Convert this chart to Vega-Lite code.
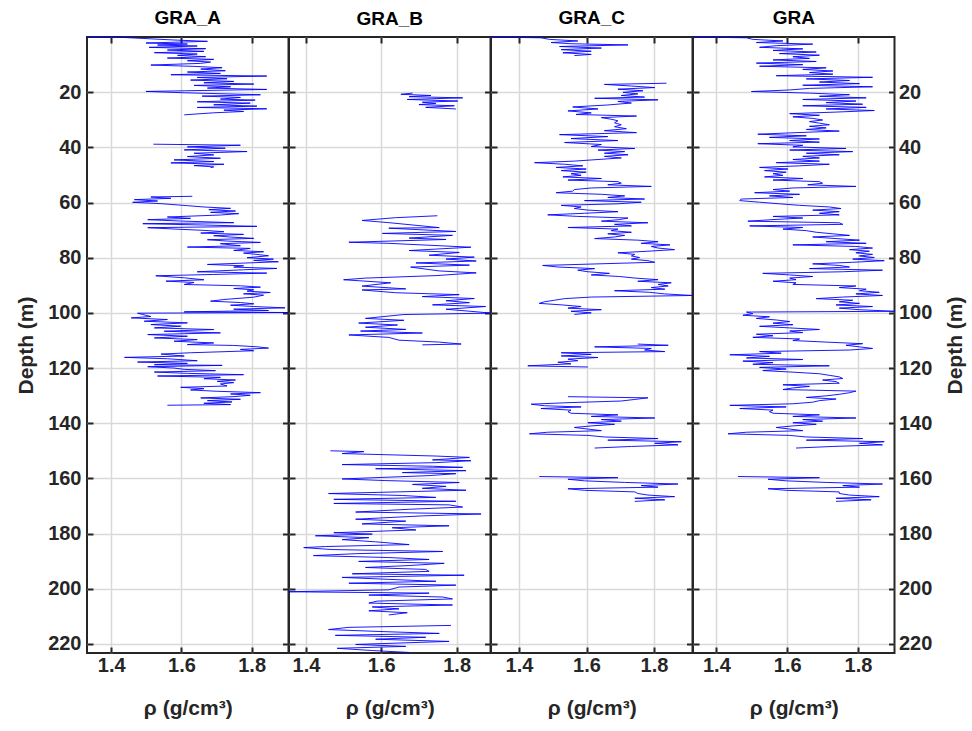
{
"$schema":"https://vega.github.io/schema/vega-lite/v6.json",
"background":"white",
"padding":{"left":14,"top":8,"right":8,"bottom":8},
"spacing":0,
"bounds":"flush",
"config":{
 "view":{"stroke":"#262626","strokeWidth":2},
 "axis":{"domain":false,"tickColor":"#262626","tickWidth":2,"tickSize":-6,"labelFont":"Liberation Sans","labelFontWeight":"bold","labelFontSize":20,"labelColor":"#262626","titleFont":"Liberation Sans","titleFontWeight":"bold","titleFontSize":21,"titleColor":"#262626","gridColor":"#d9d9d9","gridWidth":1.5,"gridOpacity":1},
 "title":{"font":"Liberation Sans","fontWeight":"bold","fontSize":19,"color":"#000000","anchor":"middle","offset":7}
},
"datasets":{
"A":[
{"s":1,"d":0,"r":1.331},{"s":1,"d":0.12,"r":1.428},{"s":1,"d":1.09,"r":1.579},{"s":1,"d":1.57,"r":1.674},{"s":1,"d":2.18,"r":1.499},{"s":1,"d":2.54,"r":1.617},{"s":1,"d":2.91,"r":1.532},{"s":1,"d":3.27,"r":1.645},{"s":1,"d":3.75,"r":1.508},{"s":1,"d":4.24,"r":1.669},{"s":1,"d":4.72,"r":1.56},{"s":1,"d":5.21,"r":1.664},{"s":1,"d":5.69,"r":1.523},{"s":1,"d":6.17,"r":1.645},{"s":1,"d":6.66,"r":1.589},{"s":1,"d":7.14,"r":1.669},{"s":1,"d":7.63,"r":1.56},{"s":1,"d":8.11,"r":1.692},{"s":1,"d":8.6,"r":1.617},{"s":1,"d":9.08,"r":1.683},{"s":1,"d":9.56,"r":1.655},{"s":1,"d":10.17,"r":1.513},{"s":1,"d":10.65,"r":1.636},{"s":1,"d":11.14,"r":1.716},{"s":1,"d":11.62,"r":1.655},{"s":1,"d":12.23,"r":1.725},{"s":1,"d":12.71,"r":1.617},{"s":1,"d":13.2,"r":1.711},{"s":1,"d":13.68,"r":1.57},{"s":1,"d":14.16,"r":1.843},{"s":1,"d":14.65,"r":1.645},{"s":1,"d":15.13,"r":1.73},{"s":1,"d":15.62,"r":1.626},{"s":1,"d":16.1,"r":1.749},{"s":1,"d":16.59,"r":1.664},{"s":1,"d":17.07,"r":1.806},{"s":1,"d":17.55,"r":1.636},{"s":1,"d":18.04,"r":1.74},{"s":1,"d":18.52,"r":1.674},{"s":1,"d":19.01,"r":1.843},{"s":1,"d":19.49,"r":1.612},{"s":1,"d":19.73,"r":1.499},{"s":1,"d":20.22,"r":1.608},{"s":1,"d":20.94,"r":1.825},{"s":1,"d":21.43,"r":1.659},{"s":1,"d":21.91,"r":1.768},{"s":1,"d":22.52,"r":1.711},{"s":1,"d":22.88,"r":1.81},{"s":1,"d":23.49,"r":1.645},{"s":1,"d":23.97,"r":1.796},{"s":1,"d":24.58,"r":1.692},{"s":1,"d":25.06,"r":1.815},{"s":1,"d":25.54,"r":1.645},{"s":1,"d":26.03,"r":1.843},{"s":1,"d":26.51,"r":1.721},{"s":1,"d":27,"r":1.777},{"s":1,"d":27.48,"r":1.692},{"s":1,"d":28.21,"r":1.608},
{"s":2,"d":38.86,"r":1.52},{"s":2,"d":39.23,"r":1.768},{"s":2,"d":39.83,"r":1.617},{"s":2,"d":40.31,"r":1.725},{"s":2,"d":40.92,"r":1.608},{"s":2,"d":41.53,"r":1.787},{"s":2,"d":42.13,"r":1.636},{"s":2,"d":42.74,"r":1.692},{"s":2,"d":43.34,"r":1.617},{"s":2,"d":43.95,"r":1.711},{"s":2,"d":44.55,"r":1.579},{"s":2,"d":45.16,"r":1.692},{"s":2,"d":45.64,"r":1.57},{"s":2,"d":46.13,"r":1.721},{"s":2,"d":46.61,"r":1.636},{"s":2,"d":47.09,"r":1.692},{"s":2,"d":47.34,"r":1.683},
{"s":3,"d":57.75,"r":1.631},{"s":3,"d":57.99,"r":1.513},{"s":3,"d":58.47,"r":1.57},{"s":3,"d":58.96,"r":1.466},{"s":3,"d":59.44,"r":1.532},{"s":3,"d":59.93,"r":1.461},{"s":3,"d":60.41,"r":1.542},{"s":3,"d":61.14,"r":1.617},{"s":3,"d":61.62,"r":1.664},{"s":3,"d":62.11,"r":1.74},{"s":3,"d":62.59,"r":1.678},{"s":3,"d":63.08,"r":1.754},{"s":3,"d":63.56,"r":1.683},{"s":3,"d":64.04,"r":1.763},{"s":3,"d":64.53,"r":1.711},{"s":3,"d":65.25,"r":1.56},{"s":3,"d":65.74,"r":1.626},{"s":3,"d":66.22,"r":1.504},{"s":3,"d":66.71,"r":1.598},{"s":3,"d":67.31,"r":1.749},{"s":3,"d":67.68,"r":1.49},{"s":3,"d":68.16,"r":1.664},{"s":3,"d":68.64,"r":1.815},{"s":3,"d":69.13,"r":1.504},{"s":3,"d":69.61,"r":1.579},{"s":3,"d":70.1,"r":1.664},{"s":3,"d":70.58,"r":1.721},{"s":3,"d":71.07,"r":1.655},{"s":3,"d":71.55,"r":1.777},{"s":3,"d":72.03,"r":1.692},{"s":3,"d":72.52,"r":1.74},{"s":3,"d":73,"r":1.806},{"s":3,"d":73.49,"r":1.674},{"s":3,"d":73.97,"r":1.73},{"s":3,"d":74.46,"r":1.825},{"s":3,"d":74.94,"r":1.711},{"s":3,"d":75.67,"r":1.768},{"s":3,"d":76.15,"r":1.617},{"s":3,"d":76.63,"r":1.796},{"s":3,"d":77.36,"r":1.749},{"s":3,"d":77.85,"r":1.834},{"s":3,"d":78.33,"r":1.777},{"s":3,"d":78.81,"r":1.815},{"s":3,"d":79.3,"r":1.848},{"s":3,"d":80.02,"r":1.787},{"s":3,"d":80.51,"r":1.862},{"s":3,"d":80.99,"r":1.806},{"s":3,"d":81.48,"r":1.876},{"s":3,"d":81.96,"r":1.777},{"s":3,"d":82.45,"r":1.674},{"s":3,"d":82.93,"r":1.777},{"s":3,"d":83.41,"r":1.749},{"s":3,"d":83.9,"r":1.872},{"s":3,"d":84.38,"r":1.777},{"s":3,"d":85.11,"r":1.645},{"s":3,"d":85.59,"r":1.843},{"s":3,"d":86.08,"r":1.692},{"s":3,"d":86.56,"r":1.527},{"s":3,"d":87.29,"r":1.608},{"s":3,"d":88.01,"r":1.664},{"s":3,"d":88.5,"r":1.556},{"s":3,"d":88.98,"r":1.636},{"s":3,"d":89.71,"r":1.608},{"s":3,"d":90.19,"r":1.768},{"s":3,"d":90.68,"r":1.825},{"s":3,"d":91.16,"r":1.749},{"s":3,"d":91.65,"r":1.806},{"s":3,"d":92.13,"r":1.787},{"s":3,"d":92.62,"r":1.853},{"s":3,"d":93.1,"r":1.777},{"s":3,"d":93.58,"r":1.834},{"s":3,"d":94.31,"r":1.806},{"s":3,"d":95.16,"r":1.721},{"s":3,"d":95.76,"r":1.683},{"s":3,"d":96.25,"r":1.768},{"s":3,"d":96.73,"r":1.806},{"s":3,"d":97.22,"r":1.74},{"s":3,"d":97.7,"r":1.806},{"s":3,"d":98.18,"r":1.895},{"s":3,"d":98.67,"r":1.749},{"s":3,"d":99.15,"r":1.848},{"s":3,"d":99.64,"r":1.608},{"s":3,"d":99.88,"r":1.905},{"s":3,"d":100.12,"r":1.475},{"s":3,"d":100.61,"r":1.49},{"s":3,"d":101.33,"r":1.513},{"s":3,"d":101.82,"r":1.457},{"s":3,"d":102.42,"r":1.56},{"s":3,"d":103.03,"r":1.494},{"s":3,"d":103.63,"r":1.617},{"s":3,"d":104.24,"r":1.513},{"s":3,"d":104.84,"r":1.598},{"s":3,"d":105.45,"r":1.523},{"s":3,"d":106.05,"r":1.692},{"s":3,"d":106.66,"r":1.551},{"s":3,"d":107.26,"r":1.711},{"s":3,"d":107.87,"r":1.504},{"s":3,"d":108.47,"r":1.617},{"s":3,"d":109.08,"r":1.523},{"s":3,"d":109.69,"r":1.645},{"s":3,"d":110.29,"r":1.579},{"s":3,"d":110.9,"r":1.692},{"s":3,"d":111.5,"r":1.617},{"s":3,"d":111.81,"r":1.749},{"s":3,"d":112.29,"r":1.815},{"s":3,"d":112.77,"r":1.848},{"s":3,"d":113.25,"r":1.768},{"s":3,"d":113.73,"r":1.806},{"s":3,"d":114.46,"r":1.626},{"s":3,"d":114.94,"r":1.542},{"s":3,"d":115.66,"r":1.608},{"s":3,"d":116.14,"r":1.438},{"s":3,"d":116.63,"r":1.56},{"s":3,"d":117.35,"r":1.645},{"s":3,"d":117.83,"r":1.475},{"s":3,"d":118.31,"r":1.617},{"s":3,"d":118.8,"r":1.523},{"s":3,"d":119.04,"r":1.716},{"s":3,"d":119.52,"r":1.504},{"s":3,"d":120,"r":1.579},{"s":3,"d":120.48,"r":1.608},{"s":3,"d":120.96,"r":1.697},{"s":3,"d":121.45,"r":1.523},{"s":3,"d":121.93,"r":1.617},{"s":3,"d":122.41,"r":1.777},{"s":3,"d":122.89,"r":1.532},{"s":3,"d":123.37,"r":1.711},{"s":3,"d":123.86,"r":1.664},{"s":3,"d":124.34,"r":1.754},{"s":3,"d":124.82,"r":1.702},{"s":3,"d":125.3,"r":1.749},{"s":3,"d":125.78,"r":1.711},{"s":3,"d":126.51,"r":1.73},{"s":3,"d":126.99,"r":1.598},{"s":3,"d":127.47,"r":1.664},{"s":3,"d":127.95,"r":1.626},{"s":3,"d":128.43,"r":1.702},{"s":3,"d":128.92,"r":1.825},{"s":3,"d":129.4,"r":1.74},{"s":3,"d":129.88,"r":1.796},{"s":3,"d":130.36,"r":1.749},{"s":3,"d":130.84,"r":1.655},{"s":3,"d":131.33,"r":1.768},{"s":3,"d":131.81,"r":1.674},{"s":3,"d":132.29,"r":1.744},{"s":3,"d":132.77,"r":1.664},{"s":3,"d":133.25,"r":1.74},{"s":3,"d":133.49,"r":1.56}
],
"B":[
{"s":1,"d":20.34,"r":1.683},{"s":1,"d":20.77,"r":1.652},{"s":1,"d":21.2,"r":1.732},{"s":1,"d":21.63,"r":1.674},{"s":1,"d":22.06,"r":1.816},{"s":1,"d":22.64,"r":1.669},{"s":1,"d":23.21,"r":1.803},{"s":1,"d":23.64,"r":1.709},{"s":1,"d":24.07,"r":1.745},{"s":1,"d":24.5,"r":1.7},{"s":1,"d":24.93,"r":1.794},{"s":1,"d":25.5,"r":1.718},{"s":1,"d":26.08,"r":1.798},
{"s":2,"d":64.8,"r":1.749},{"s":2,"d":65.5,"r":1.638},{"s":2,"d":66.5,"r":1.549},{"s":2,"d":67.3,"r":1.62},{"s":2,"d":69.1,"r":1.754},{"s":2,"d":69.3,"r":1.62},{"s":2,"d":70.5,"r":1.798},{"s":2,"d":71.2,"r":1.603},{"s":2,"d":71.9,"r":1.789},{"s":2,"d":72.9,"r":1.674},{"s":2,"d":73.4,"r":1.772},{"s":2,"d":74.4,"r":1.514},{"s":2,"d":74.8,"r":1.62},{"s":2,"d":76.2,"r":1.838},{"s":2,"d":77.4,"r":1.674},{"s":2,"d":78.1,"r":1.807},{"s":2,"d":79.1,"r":1.727},{"s":2,"d":79.8,"r":1.847},{"s":2,"d":80.5,"r":1.772},{"s":2,"d":81.2,"r":1.852},{"s":2,"d":81.9,"r":1.692},{"s":2,"d":82.7,"r":1.834},{"s":2,"d":83.4,"r":1.678},{"s":2,"d":84.8,"r":1.754},{"s":2,"d":85.5,"r":1.852},{"s":2,"d":86.5,"r":1.745},{"s":2,"d":87.4,"r":1.558},{"s":2,"d":88,"r":1.5},{"s":2,"d":89.1,"r":1.625},{"s":2,"d":90.3,"r":1.549},{"s":2,"d":91.3,"r":1.665},{"s":2,"d":91.7,"r":1.549},{"s":2,"d":92.7,"r":1.638},{"s":2,"d":93.4,"r":1.807},{"s":2,"d":94.1,"r":1.709},{"s":2,"d":94.8,"r":1.847},{"s":2,"d":95.6,"r":1.772},{"s":2,"d":96.3,"r":1.834},{"s":2,"d":97.1,"r":1.736},{"s":2,"d":97.7,"r":1.877},{"s":2,"d":98.7,"r":1.772},{"s":2,"d":99.6,"r":1.852},{"s":2,"d":100.1,"r":1.89},{"s":2,"d":100.6,"r":1.66},{"s":2,"d":102,"r":1.558},{"s":2,"d":102.7,"r":1.66},{"s":2,"d":103.7,"r":1.54},{"s":2,"d":104.4,"r":1.643},{"s":2,"d":105.2,"r":1.558},{"s":2,"d":106,"r":1.665},{"s":2,"d":106.6,"r":1.545},{"s":2,"d":107.3,"r":1.709},{"s":2,"d":108,"r":1.514},{"s":2,"d":108.9,"r":1.62},{"s":2,"d":109.9,"r":1.647},{"s":2,"d":110.6,"r":1.754},{"s":2,"d":111.3,"r":1.812},{"s":2,"d":111.6,"r":1.709},
{"s":3,"d":150,"r":1.465},{"s":3,"d":150.3,"r":1.554},{"s":3,"d":151,"r":1.496},{"s":3,"d":151.9,"r":1.745},{"s":3,"d":152.4,"r":1.834},{"s":3,"d":153.3,"r":1.736},{"s":3,"d":153.6,"r":1.838},{"s":3,"d":154.3,"r":1.745},{"s":3,"d":155,"r":1.496},{"s":3,"d":155.6,"r":1.736},{"s":3,"d":156,"r":1.816},{"s":3,"d":156.5,"r":1.585},{"s":3,"d":157.2,"r":1.825},{"s":3,"d":157.9,"r":1.656},{"s":3,"d":158.3,"r":1.798},{"s":3,"d":159,"r":1.727},{"s":3,"d":160.2,"r":1.496},{"s":3,"d":160.8,"r":1.612},{"s":3,"d":161.5,"r":1.807},{"s":3,"d":162.2,"r":1.683},{"s":3,"d":162.9,"r":1.772},{"s":3,"d":163.6,"r":1.709},{"s":3,"d":164.3,"r":1.825},{"s":3,"d":165.5,"r":1.46},{"s":3,"d":166.2,"r":1.656},{"s":3,"d":166.9,"r":1.745},{"s":3,"d":167.6,"r":1.474},{"s":3,"d":168.3,"r":1.798},{"s":3,"d":169.1,"r":1.474},{"s":3,"d":169.6,"r":1.78},{"s":3,"d":170.4,"r":1.816},{"s":3,"d":171.2,"r":1.674},{"s":3,"d":172.2,"r":1.532},{"s":3,"d":172.9,"r":1.865},{"s":3,"d":173.6,"r":1.709},{"s":3,"d":174.8,"r":1.532},{"s":3,"d":175.5,"r":1.665},{"s":3,"d":176.5,"r":1.549},{"s":3,"d":177.2,"r":1.78},{"s":3,"d":177.9,"r":1.629},{"s":3,"d":178.7,"r":1.692},{"s":3,"d":179.7,"r":1.474},{"s":3,"d":180.2,"r":1.576},{"s":3,"d":180.8,"r":1.425},{"s":3,"d":181.5,"r":1.567},{"s":3,"d":182.2,"r":1.496},{"s":3,"d":183,"r":1.585},{"s":3,"d":184,"r":1.674},{"s":3,"d":184.7,"r":1.452},{"s":3,"d":185.1,"r":1.394},{"s":3,"d":185.8,"r":1.469},{"s":3,"d":186.5,"r":1.763},{"s":3,"d":187.3,"r":1.532},{"s":3,"d":188,"r":1.42},{"s":3,"d":188.7,"r":1.62},{"s":3,"d":189.4,"r":1.727},{"s":3,"d":190.1,"r":1.54},{"s":3,"d":190.8,"r":1.767},{"s":3,"d":191.6,"r":1.674},{"s":3,"d":192.3,"r":1.558},{"s":3,"d":193,"r":1.718},{"s":3,"d":193.7,"r":1.727},{"s":3,"d":194.6,"r":1.523},{"s":3,"d":195.1,"r":1.82},{"s":3,"d":195.9,"r":1.496},{"s":3,"d":196.6,"r":1.62},{"s":3,"d":197.3,"r":1.745},{"s":3,"d":198,"r":1.514},{"s":3,"d":198.7,"r":1.798},{"s":3,"d":199.4,"r":1.647},{"s":3,"d":200.4,"r":1.62},{"s":3,"d":201.1,"r":1.355},{"s":3,"d":201.6,"r":1.727},{"s":3,"d":202.3,"r":1.567},{"s":3,"d":203,"r":1.763},{"s":3,"d":203.7,"r":1.789},{"s":3,"d":204.5,"r":1.589},{"s":3,"d":205.2,"r":1.567},{"s":3,"d":205.9,"r":1.789},{"s":3,"d":206.6,"r":1.576},{"s":3,"d":207.3,"r":1.647},{"s":3,"d":208,"r":1.567},{"s":3,"d":208.7,"r":1.669},{"s":3,"d":209.5,"r":1.62},
{"s":4,"d":213.3,"r":1.785},{"s":4,"d":214,"r":1.514},{"s":4,"d":214.8,"r":1.46},{"s":4,"d":215.5,"r":1.594},{"s":4,"d":216.2,"r":1.754},{"s":4,"d":216.9,"r":1.478},{"s":4,"d":217.6,"r":1.718},{"s":4,"d":218.3,"r":1.585},{"s":4,"d":219.1,"r":1.78},{"s":4,"d":220.2,"r":1.532},{"s":4,"d":220.9,"r":1.665},{"s":4,"d":221.6,"r":1.483},{"s":4,"d":222.4,"r":1.576},{"s":4,"d":223.1,"r":1.674}
],
"C":[
{"s":1,"d":0,"r":1.317},{"s":1,"d":0.29,"r":1.465},{"s":1,"d":0.86,"r":1.49},{"s":1,"d":1.43,"r":1.574},{"s":1,"d":2.01,"r":1.495},{"s":1,"d":2.44,"r":1.554},{"s":1,"d":2.87,"r":1.723},{"s":1,"d":3.44,"r":1.52},{"s":1,"d":4.01,"r":1.644},{"s":1,"d":4.58,"r":1.525},{"s":1,"d":5.16,"r":1.614},{"s":1,"d":5.73,"r":1.53},{"s":1,"d":6.3,"r":1.614},{"s":1,"d":6.73,"r":1.564},
{"s":2,"d":16.76,"r":1.837},{"s":2,"d":17.19,"r":1.653},{"s":2,"d":17.77,"r":1.733},{"s":2,"d":18.34,"r":1.802},{"s":2,"d":18.91,"r":1.693},{"s":2,"d":19.49,"r":1.767},{"s":2,"d":20.06,"r":1.708},{"s":2,"d":20.63,"r":1.752},{"s":2,"d":21.2,"r":1.703},{"s":2,"d":21.78,"r":1.772},{"s":2,"d":22.21,"r":1.624},{"s":2,"d":22.78,"r":1.812},{"s":2,"d":23.35,"r":1.693},{"s":2,"d":23.93,"r":1.733},{"s":2,"d":24.64,"r":1.663},{"s":2,"d":25.36,"r":1.559},{"s":2,"d":26.08,"r":1.634},{"s":2,"d":26.79,"r":1.545},{"s":2,"d":27.51,"r":1.614},{"s":2,"d":28.08,"r":1.569},{"s":2,"d":28.65,"r":1.748},{"s":2,"d":29.23,"r":1.644},{"s":2,"d":29.8,"r":1.673},{"s":2,"d":30.37,"r":1.693},{"s":2,"d":31.09,"r":1.683},{"s":2,"d":31.81,"r":1.703},{"s":2,"d":32.52,"r":1.683},{"s":2,"d":33.24,"r":1.718},{"s":2,"d":33.96,"r":1.653},{"s":2,"d":34.67,"r":1.748},{"s":2,"d":35.39,"r":1.52},{"s":2,"d":36.1,"r":1.663},{"s":2,"d":36.82,"r":1.554},{"s":2,"d":37.54,"r":1.693},{"s":2,"d":38.25,"r":1.535},{"s":2,"d":38.97,"r":1.644},{"s":2,"d":39.69,"r":1.614},{"s":2,"d":40.4,"r":1.743},{"s":2,"d":40.98,"r":1.634},{"s":2,"d":41.55,"r":1.713},{"s":2,"d":42.12,"r":1.653},{"s":2,"d":42.69,"r":1.723},{"s":2,"d":43.27,"r":1.653},{"s":2,"d":43.84,"r":1.703},{"s":2,"d":44.41,"r":1.634},{"s":2,"d":44.99,"r":1.564},{"s":2,"d":45.56,"r":1.446},{"s":2,"d":46.13,"r":1.535},{"s":2,"d":46.71,"r":1.589},{"s":2,"d":47.28,"r":1.51},{"s":2,"d":47.85,"r":1.599},{"s":2,"d":48.43,"r":1.525},{"s":2,"d":49,"r":1.599},{"s":2,"d":49.57,"r":1.554},{"s":2,"d":50.14,"r":1.584},{"s":2,"d":50.72,"r":1.53},{"s":2,"d":51.29,"r":1.644},{"s":2,"d":51.86,"r":1.545},{"s":2,"d":52.44,"r":1.693},{"s":2,"d":53.01,"r":1.703},{"s":2,"d":53.58,"r":1.663},{"s":2,"d":54.16,"r":1.792},{"s":2,"d":54.73,"r":1.614},{"s":2,"d":55.3,"r":1.564},{"s":2,"d":55.88,"r":1.559},{"s":2,"d":56.45,"r":1.51},{"s":2,"d":57.02,"r":1.644},{"s":2,"d":57.59,"r":1.713},{"s":2,"d":58.17,"r":1.663},{"s":2,"d":58.74,"r":1.772},{"s":2,"d":59.31,"r":1.594},{"s":2,"d":59.89,"r":1.762},{"s":2,"d":60.46,"r":1.693},{"s":2,"d":61.03,"r":1.525},{"s":2,"d":61.61,"r":1.584},{"s":2,"d":62.18,"r":1.564},{"s":2,"d":62.75,"r":1.604},{"s":2,"d":63.33,"r":1.693},{"s":2,"d":63.9,"r":1.594},{"s":2,"d":64.47,"r":1.485},{"s":2,"d":65.04,"r":1.574},{"s":2,"d":65.62,"r":1.723},{"s":2,"d":66.19,"r":1.698},{"s":2,"d":66.76,"r":1.644},{"s":2,"d":67.34,"r":1.782},{"s":2,"d":67.91,"r":1.683},{"s":2,"d":68.48,"r":1.733},{"s":2,"d":69.06,"r":1.545},{"s":2,"d":69.63,"r":1.693},{"s":2,"d":70.2,"r":1.673},{"s":2,"d":70.78,"r":1.733},{"s":2,"d":71.35,"r":1.663},{"s":2,"d":71.92,"r":1.713},{"s":2,"d":72.49,"r":1.683},{"s":2,"d":73.07,"r":1.624},{"s":2,"d":73.64,"r":1.752},{"s":2,"d":74.21,"r":1.812},{"s":2,"d":74.79,"r":1.762},{"s":2,"d":75.36,"r":1.847},{"s":2,"d":75.93,"r":1.792},{"s":2,"d":76.51,"r":1.812},{"s":2,"d":77.08,"r":1.861},{"s":2,"d":77.65,"r":1.782},{"s":2,"d":78.23,"r":1.693},{"s":2,"d":78.8,"r":1.743},{"s":2,"d":79.37,"r":1.733},{"s":2,"d":79.94,"r":1.757},{"s":2,"d":80.52,"r":1.733},{"s":2,"d":81.09,"r":1.782},{"s":2,"d":81.66,"r":1.802},{"s":2,"d":82.24,"r":1.634},{"s":2,"d":82.81,"r":1.47},{"s":2,"d":83.38,"r":1.515},{"s":2,"d":83.96,"r":1.624},{"s":2,"d":84.53,"r":1.574},{"s":2,"d":85.1,"r":1.604},{"s":2,"d":85.68,"r":1.668},{"s":2,"d":86.25,"r":1.614},{"s":2,"d":86.82,"r":1.698},{"s":2,"d":87.39,"r":1.743},{"s":2,"d":87.97,"r":1.812},{"s":2,"d":88.54,"r":1.752},{"s":2,"d":89.11,"r":1.851},{"s":2,"d":89.69,"r":1.812},{"s":2,"d":90.26,"r":1.842},{"s":2,"d":90.83,"r":1.792},{"s":2,"d":91.41,"r":1.832},{"s":2,"d":91.98,"r":1.683},{"s":2,"d":92.55,"r":1.787},{"s":2,"d":93.13,"r":1.832},{"s":2,"d":93.7,"r":1.914},{"s":2,"d":94.27,"r":1.614},{"s":2,"d":94.84,"r":1.535},{"s":2,"d":95.42,"r":1.505},{"s":2,"d":95.99,"r":1.475},{"s":2,"d":96.56,"r":1.46},{"s":2,"d":97.14,"r":1.53},{"s":2,"d":97.71,"r":1.584},{"s":2,"d":98.28,"r":1.545},{"s":2,"d":98.86,"r":1.644},{"s":2,"d":99.43,"r":1.554},{"s":2,"d":100,"r":1.614},{"s":2,"d":100.57,"r":1.564},
{"s":3,"d":111.32,"r":1.752},{"s":3,"d":111.75,"r":1.842},{"s":3,"d":112.32,"r":1.624},{"s":3,"d":112.9,"r":1.792},{"s":3,"d":113.47,"r":1.772},{"s":3,"d":114.04,"r":1.832},{"s":3,"d":114.47,"r":1.525},{"s":3,"d":115.04,"r":1.614},{"s":3,"d":115.62,"r":1.525},{"s":3,"d":116.19,"r":1.634},{"s":3,"d":116.77,"r":1.545},{"s":3,"d":117.34,"r":1.574},{"s":3,"d":117.91,"r":1.515},{"s":3,"d":118.48,"r":1.554},{"s":3,"d":119.2,"r":1.426},{"s":3,"d":119.63,"r":1.604},
{"s":4,"d":130.38,"r":1.545},{"s":4,"d":130.81,"r":1.782},{"s":4,"d":131.38,"r":1.743},{"s":4,"d":131.95,"r":1.703},{"s":4,"d":132.52,"r":1.554},{"s":4,"d":133.1,"r":1.436},{"s":4,"d":133.67,"r":1.475},{"s":4,"d":134.1,"r":1.584},{"s":4,"d":134.67,"r":1.465},{"s":4,"d":135.25,"r":1.554},{"s":4,"d":135.82,"r":1.545},{"s":4,"d":136.39,"r":1.554},{"s":4,"d":136.97,"r":1.693},{"s":4,"d":137.54,"r":1.614},{"s":4,"d":138.11,"r":1.802},{"s":4,"d":138.69,"r":1.644},{"s":4,"d":139.26,"r":1.703},{"s":4,"d":139.83,"r":1.604},{"s":4,"d":140.4,"r":1.683},{"s":4,"d":140.98,"r":1.614},{"s":4,"d":141.55,"r":1.564},{"s":4,"d":142.12,"r":1.604},{"s":4,"d":142.7,"r":1.644},{"s":4,"d":143.27,"r":1.485},{"s":4,"d":143.84,"r":1.431},{"s":4,"d":144.42,"r":1.604},{"s":4,"d":144.99,"r":1.653},{"s":4,"d":145.56,"r":1.812},{"s":4,"d":146.14,"r":1.663},{"s":4,"d":146.71,"r":1.881},{"s":4,"d":147.28,"r":1.802},{"s":4,"d":147.85,"r":1.871},{"s":4,"d":148.43,"r":1.733},{"s":4,"d":149,"r":1.624},
{"s":5,"d":159.32,"r":1.46},{"s":5,"d":159.75,"r":1.693},{"s":5,"d":160.32,"r":1.545},{"s":5,"d":160.89,"r":1.594},{"s":5,"d":161.47,"r":1.713},{"s":5,"d":162.04,"r":1.871},{"s":5,"d":162.61,"r":1.762},{"s":5,"d":163.18,"r":1.812},{"s":5,"d":163.76,"r":1.545},{"s":5,"d":164.33,"r":1.594},{"s":5,"d":164.9,"r":1.743},{"s":5,"d":165.48,"r":1.752},{"s":5,"d":166.05,"r":1.782},{"s":5,"d":166.62,"r":1.861},{"s":5,"d":167.2,"r":1.743},{"s":5,"d":167.77,"r":1.832},{"s":5,"d":168.34,"r":1.743}
],
"D":[
{"s":1,"d":0,"r":1.334},{"s":1,"d":0.29,"r":1.485},{"s":1,"d":0.86,"r":1.503},{"s":1,"d":1.43,"r":1.588},{"s":1,"d":2.01,"r":1.513},{"s":1,"d":2.58,"r":1.672},{"s":1,"d":3.15,"r":1.569},{"s":1,"d":3.73,"r":1.522},{"s":1,"d":4.3,"r":1.644},{"s":1,"d":4.87,"r":1.56},{"s":1,"d":5.44,"r":1.682},{"s":1,"d":6.02,"r":1.578},{"s":1,"d":6.59,"r":1.691},{"s":1,"d":7.16,"r":1.616},{"s":1,"d":7.74,"r":1.663},{"s":1,"d":8.31,"r":1.56},{"s":1,"d":8.88,"r":1.682},{"s":1,"d":9.46,"r":1.513},{"s":1,"d":10.03,"r":1.644},{"s":1,"d":10.6,"r":1.522},{"s":1,"d":11.18,"r":1.71},{"s":1,"d":11.75,"r":1.644},{"s":1,"d":12.32,"r":1.729},{"s":1,"d":12.89,"r":1.663},{"s":1,"d":13.47,"r":1.729},{"s":1,"d":14.04,"r":1.569},{"s":1,"d":14.61,"r":1.841},{"s":1,"d":15.19,"r":1.654},{"s":1,"d":15.76,"r":1.776},{"s":1,"d":16.33,"r":1.691},{"s":1,"d":16.91,"r":1.804},{"s":1,"d":17.48,"r":1.644},{"s":1,"d":18.05,"r":1.841},{"s":1,"d":18.63,"r":1.663},{"s":1,"d":19.2,"r":1.607},{"s":1,"d":19.77,"r":1.499},{"s":1,"d":20.34,"r":1.663},{"s":1,"d":20.92,"r":1.776},{"s":1,"d":21.49,"r":1.691},{"s":1,"d":22.06,"r":1.823},{"s":1,"d":22.64,"r":1.644},{"s":1,"d":23.21,"r":1.794},{"s":1,"d":23.78,"r":1.71},{"s":1,"d":24.36,"r":1.813},{"s":1,"d":24.93,"r":1.644},{"s":1,"d":25.5,"r":1.823},{"s":1,"d":26.08,"r":1.71},{"s":1,"d":26.65,"r":1.846},{"s":1,"d":27.22,"r":1.738},{"s":1,"d":27.79,"r":1.607},{"s":1,"d":28.37,"r":1.691},{"s":1,"d":28.94,"r":1.616},{"s":1,"d":29.51,"r":1.672},{"s":1,"d":30.09,"r":1.7},{"s":1,"d":30.66,"r":1.663},{"s":1,"d":31.23,"r":1.691},{"s":1,"d":31.81,"r":1.719},{"s":1,"d":32.38,"r":1.663},{"s":1,"d":32.95,"r":1.71},{"s":1,"d":33.53,"r":1.654},{"s":1,"d":34.1,"r":1.747},{"s":1,"d":34.67,"r":1.625},{"s":1,"d":35.24,"r":1.517},{"s":1,"d":35.82,"r":1.654},{"s":1,"d":36.39,"r":1.55},{"s":1,"d":36.96,"r":1.691},{"s":1,"d":37.54,"r":1.607},{"s":1,"d":38.11,"r":1.691},{"s":1,"d":38.68,"r":1.517},{"s":1,"d":39.26,"r":1.644},{"s":1,"d":39.83,"r":1.616},{"s":1,"d":40.4,"r":1.766},{"s":1,"d":40.98,"r":1.607},{"s":1,"d":41.55,"r":1.785},{"s":1,"d":42.12,"r":1.654},{"s":1,"d":42.69,"r":1.747},{"s":1,"d":43.27,"r":1.644},{"s":1,"d":43.84,"r":1.691},{"s":1,"d":44.41,"r":1.616},{"s":1,"d":44.99,"r":1.691},{"s":1,"d":45.56,"r":1.569},{"s":1,"d":46.13,"r":1.719},{"s":1,"d":46.71,"r":1.635},{"s":1,"d":47.28,"r":1.522},{"s":1,"d":47.85,"r":1.602},{"s":1,"d":48.43,"r":1.536},{"s":1,"d":49,"r":1.597},{"s":1,"d":49.57,"r":1.56},{"s":1,"d":50.14,"r":1.588},{"s":1,"d":50.72,"r":1.536},{"s":1,"d":51.29,"r":1.644},{"s":1,"d":51.86,"r":1.56},{"s":1,"d":52.44,"r":1.691},{"s":1,"d":53.01,"r":1.7},{"s":1,"d":53.58,"r":1.658},{"s":1,"d":54.16,"r":1.794},{"s":1,"d":54.73,"r":1.616},{"s":1,"d":55.3,"r":1.56},{"s":1,"d":55.88,"r":1.607},{"s":1,"d":56.45,"r":1.508},{"s":1,"d":57.02,"r":1.635},{"s":1,"d":57.59,"r":1.55},{"s":1,"d":58.17,"r":1.616},{"s":1,"d":58.74,"r":1.47},{"s":1,"d":59.31,"r":1.466},{"s":1,"d":59.89,"r":1.522},{"s":1,"d":60.46,"r":1.578},{"s":1,"d":61.03,"r":1.635},{"s":1,"d":61.61,"r":1.719},{"s":1,"d":62.18,"r":1.752},{"s":1,"d":62.75,"r":1.672},{"s":1,"d":63.33,"r":1.747},{"s":1,"d":63.9,"r":1.691},{"s":1,"d":64.47,"r":1.747},{"s":1,"d":65.04,"r":1.56},{"s":1,"d":65.62,"r":1.644},{"s":1,"d":66.19,"r":1.56},{"s":1,"d":66.76,"r":1.489},{"s":1,"d":67.34,"r":1.747},{"s":1,"d":67.91,"r":1.757},{"s":1,"d":68.48,"r":1.494},{"s":1,"d":69.06,"r":1.644},{"s":1,"d":69.63,"r":1.588},{"s":1,"d":70.2,"r":1.654},{"s":1,"d":70.78,"r":1.682},{"s":1,"d":71.35,"r":1.729},{"s":1,"d":71.92,"r":1.776},{"s":1,"d":72.49,"r":1.672},{"s":1,"d":73.07,"r":1.738},{"s":1,"d":73.64,"r":1.804},{"s":1,"d":74.21,"r":1.71},{"s":1,"d":74.79,"r":1.823},{"s":1,"d":75.36,"r":1.616},{"s":1,"d":75.93,"r":1.794},{"s":1,"d":76.51,"r":1.841},{"s":1,"d":77.08,"r":1.776},{"s":1,"d":77.65,"r":1.832},{"s":1,"d":78.23,"r":1.794},{"s":1,"d":78.8,"r":1.841},{"s":1,"d":79.37,"r":1.804},{"s":1,"d":79.94,"r":1.846},{"s":1,"d":80.52,"r":1.785},{"s":1,"d":81.09,"r":1.874},{"s":1,"d":81.66,"r":1.785},{"s":1,"d":82.24,"r":1.672},{"s":1,"d":82.81,"r":1.747},{"s":1,"d":83.38,"r":1.776},{"s":1,"d":83.96,"r":1.663},{"s":1,"d":84.53,"r":1.869},{"s":1,"d":85.1,"r":1.757},{"s":1,"d":85.68,"r":1.531},{"s":1,"d":86.25,"r":1.607},{"s":1,"d":86.82,"r":1.672},{"s":1,"d":87.39,"r":1.607},{"s":1,"d":87.97,"r":1.625},{"s":1,"d":88.54,"r":1.56},{"s":1,"d":89.11,"r":1.625},{"s":1,"d":89.69,"r":1.616},{"s":1,"d":90.26,"r":1.794},{"s":1,"d":90.83,"r":1.747},{"s":1,"d":91.41,"r":1.823},{"s":1,"d":91.98,"r":1.804},{"s":1,"d":92.55,"r":1.86},{"s":1,"d":93.13,"r":1.794},{"s":1,"d":93.7,"r":1.869},{"s":1,"d":94.27,"r":1.757},{"s":1,"d":94.84,"r":1.682},{"s":1,"d":95.42,"r":1.785},{"s":1,"d":95.99,"r":1.747},{"s":1,"d":96.56,"r":1.804},{"s":1,"d":97.14,"r":1.738},{"s":1,"d":97.71,"r":1.841},{"s":1,"d":98.28,"r":1.747},{"s":1,"d":98.86,"r":1.804},{"s":1,"d":99.43,"r":1.903},{"s":1,"d":99.71,"r":1.485},{"s":1,"d":100.29,"r":1.503},{"s":1,"d":100.86,"r":1.475},{"s":1,"d":101.43,"r":1.55},{"s":1,"d":102.01,"r":1.513},{"s":1,"d":102.58,"r":1.569},{"s":1,"d":103.15,"r":1.607},{"s":1,"d":103.73,"r":1.56},{"s":1,"d":104.3,"r":1.616},{"s":1,"d":104.87,"r":1.522},{"s":1,"d":105.45,"r":1.607},{"s":1,"d":106.02,"r":1.691},{"s":1,"d":106.59,"r":1.607},{"s":1,"d":107.16,"r":1.644},{"s":1,"d":107.74,"r":1.513},{"s":1,"d":108.31,"r":1.56},{"s":1,"d":108.88,"r":1.503},{"s":1,"d":109.46,"r":1.635},{"s":1,"d":110.03,"r":1.616},{"s":1,"d":110.6,"r":1.71},{"s":1,"d":111.18,"r":1.813},{"s":1,"d":111.75,"r":1.766},{"s":1,"d":112.32,"r":1.804},{"s":1,"d":112.9,"r":1.841},{"s":1,"d":113.47,"r":1.776},{"s":1,"d":114.04,"r":1.522},{"s":1,"d":114.62,"r":1.583},{"s":1,"d":115.19,"r":1.438},{"s":1,"d":115.76,"r":1.55},{"s":1,"d":116.34,"r":1.485},{"s":1,"d":116.91,"r":1.644},{"s":1,"d":117.48,"r":1.475},{"s":1,"d":118.05,"r":1.56},{"s":1,"d":118.63,"r":1.503},{"s":1,"d":119.2,"r":1.719},{"s":1,"d":119.77,"r":1.522},{"s":1,"d":120.35,"r":1.597},{"s":1,"d":120.92,"r":1.531},{"s":1,"d":121.49,"r":1.616},{"s":1,"d":122.07,"r":1.691},{"s":1,"d":122.64,"r":1.719},{"s":1,"d":123.21,"r":1.747},{"s":1,"d":123.79,"r":1.757},{"s":1,"d":124.36,"r":1.7},{"s":1,"d":124.93,"r":1.738},{"s":1,"d":125.51,"r":1.747},{"s":1,"d":126.08,"r":1.588},{"s":1,"d":126.65,"r":1.663},{"s":1,"d":127.22,"r":1.616},{"s":1,"d":127.8,"r":1.588},{"s":1,"d":128.37,"r":1.794},{"s":1,"d":128.94,"r":1.776},{"s":1,"d":129.52,"r":1.747},{"s":1,"d":130.09,"r":1.71},{"s":1,"d":130.66,"r":1.654},{"s":1,"d":131.24,"r":1.738},{"s":1,"d":131.81,"r":1.691},{"s":1,"d":132.38,"r":1.672},{"s":1,"d":132.96,"r":1.616},{"s":1,"d":133.53,"r":1.438},{"s":1,"d":134.1,"r":1.597},{"s":1,"d":134.67,"r":1.466},{"s":1,"d":135.25,"r":1.56},{"s":1,"d":135.82,"r":1.55},{"s":1,"d":136.39,"r":1.56},{"s":1,"d":136.97,"r":1.691},{"s":1,"d":137.54,"r":1.616},{"s":1,"d":138.11,"r":1.794},{"s":1,"d":138.69,"r":1.644},{"s":1,"d":139.26,"r":1.7},{"s":1,"d":139.83,"r":1.616},{"s":1,"d":140.4,"r":1.682},{"s":1,"d":140.98,"r":1.616},{"s":1,"d":141.55,"r":1.569},{"s":1,"d":142.12,"r":1.607},{"s":1,"d":142.7,"r":1.644},{"s":1,"d":143.27,"r":1.485},{"s":1,"d":143.84,"r":1.433},{"s":1,"d":144.42,"r":1.607},{"s":1,"d":144.99,"r":1.654},{"s":1,"d":145.56,"r":1.813},{"s":1,"d":146.14,"r":1.654},{"s":1,"d":146.71,"r":1.874},{"s":1,"d":147.28,"r":1.804},{"s":1,"d":147.85,"r":1.869},{"s":1,"d":148.43,"r":1.729},{"s":1,"d":149,"r":1.625},
{"s":2,"d":159.32,"r":1.461},{"s":2,"d":159.75,"r":1.691},{"s":2,"d":160.32,"r":1.546},{"s":2,"d":160.89,"r":1.597},{"s":2,"d":161.47,"r":1.71},{"s":2,"d":162.04,"r":1.869},{"s":2,"d":162.61,"r":1.757},{"s":2,"d":163.18,"r":1.804},{"s":2,"d":163.76,"r":1.546},{"s":2,"d":164.33,"r":1.597},{"s":2,"d":164.9,"r":1.747},{"s":2,"d":165.48,"r":1.747},{"s":2,"d":166.05,"r":1.776},{"s":2,"d":166.62,"r":1.86},{"s":2,"d":167.2,"r":1.738},{"s":2,"d":167.77,"r":1.837},{"s":2,"d":168.34,"r":1.738}
]
},
"hconcat":[
{"width":201.5,"height":616,"title":"GRA_A","data":{"name":"A"},
 "resolve":{"axis":{"x":"independent","y":"independent"}},
 "layer":[
  {"mark":{"type":"line","color":"#0000ff","strokeWidth":0.9},
   "encoding":{
    "x":{"field":"r","type":"quantitative","scale":{"domain":[1.331,1.905],"nice":false,"zero":false},"axis":{"orient":"bottom","values":[1.4,1.6,1.8],"format":".1f","grid":true,"labelPadding":8,"title":"ρ (g/cm³)","titlePadding":22}},
    "y":{"field":"d","type":"quantitative","scale":{"domain":[0,223.3],"nice":false,"zero":false,"reverse":true},"axis":{"orient":"left","values":[20,40,60,80,100,120,140,160,180,200,220],"grid":true,"labelPadding":12,"title":"Depth (m)","titlePadding":11}},
    "detail":{"field":"s","type":"nominal"},
    "order":{"field":"d","type":"quantitative"}}},
  {"mark":{"type":"line","opacity":0},
   "encoding":{
    "x":{"field":"r","type":"quantitative","axis":{"orient":"top","values":[1.4,1.6,1.8],"labels":false,"grid":false,"title":null}},
    "y":{"field":"d","type":"quantitative","axis":{"orient":"right","values":[20,40,60,80,100,120,140,160,180,200,220],"labels":false,"grid":false,"title":null}},
    "detail":{"field":"s","type":"nominal"},
    "order":{"field":"d","type":"quantitative"}}}
 ]},
{"width":201.5,"height":616,"title":"GRA_B","data":{"name":"B"},
 "resolve":{"axis":{"x":"independent","y":"independent"}},
 "layer":[
  {"mark":{"type":"line","color":"#0000ff","strokeWidth":0.9},
   "encoding":{
    "x":{"field":"r","type":"quantitative","scale":{"domain":[1.355,1.89],"nice":false,"zero":false},"axis":{"orient":"bottom","values":[1.4,1.6,1.8],"format":".1f","grid":true,"labelPadding":8,"title":"ρ (g/cm³)","titlePadding":22}},
    "y":{"field":"d","type":"quantitative","scale":{"domain":[0,223.3],"nice":false,"zero":false,"reverse":true},"axis":{"orient":"left","values":[20,40,60,80,100,120,140,160,180,200,220],"grid":true,"labels":false,"title":null}},
    "detail":{"field":"s","type":"nominal"},
    "order":{"field":"d","type":"quantitative"}}},
  {"mark":{"type":"line","opacity":0},
   "encoding":{
    "x":{"field":"r","type":"quantitative","axis":{"orient":"top","values":[1.4,1.6,1.8],"labels":false,"grid":false,"title":null}},
    "y":{"field":"d","type":"quantitative","axis":{"orient":"right","values":[20,40,60,80,100,120,140,160,180,200,220],"labels":false,"grid":false,"title":null}},
    "detail":{"field":"s","type":"nominal"},
    "order":{"field":"d","type":"quantitative"}}}
 ]},
{"width":201.5,"height":616,"title":"GRA_C","data":{"name":"C"},
 "resolve":{"axis":{"x":"independent","y":"independent"}},
 "layer":[
  {"mark":{"type":"line","color":"#0000ff","strokeWidth":0.9},
   "encoding":{
    "x":{"field":"r","type":"quantitative","scale":{"domain":[1.317,1.914],"nice":false,"zero":false},"axis":{"orient":"bottom","values":[1.4,1.6,1.8],"format":".1f","grid":true,"labelPadding":8,"title":"ρ (g/cm³)","titlePadding":22}},
    "y":{"field":"d","type":"quantitative","scale":{"domain":[0,223.3],"nice":false,"zero":false,"reverse":true},"axis":{"orient":"left","values":[20,40,60,80,100,120,140,160,180,200,220],"grid":true,"labels":false,"title":null}},
    "detail":{"field":"s","type":"nominal"},
    "order":{"field":"d","type":"quantitative"}}},
  {"mark":{"type":"line","opacity":0},
   "encoding":{
    "x":{"field":"r","type":"quantitative","axis":{"orient":"top","values":[1.4,1.6,1.8],"labels":false,"grid":false,"title":null}},
    "y":{"field":"d","type":"quantitative","axis":{"orient":"right","values":[20,40,60,80,100,120,140,160,180,200,220],"labels":false,"grid":false,"title":null}},
    "detail":{"field":"s","type":"nominal"},
    "order":{"field":"d","type":"quantitative"}}}
 ]},
{"width":201.5,"height":616,"title":"GRA","data":{"name":"D"},
 "resolve":{"axis":{"x":"independent","y":"independent"}},
 "layer":[
  {"mark":{"type":"line","color":"#0000ff","strokeWidth":0.9},
   "encoding":{
    "x":{"field":"r","type":"quantitative","scale":{"domain":[1.334,1.903],"nice":false,"zero":false},"axis":{"orient":"bottom","values":[1.4,1.6,1.8],"format":".1f","grid":true,"labelPadding":8,"title":"ρ (g/cm³)","titlePadding":22}},
    "y":{"field":"d","type":"quantitative","scale":{"domain":[0,223.3],"nice":false,"zero":false,"reverse":true},"axis":{"orient":"left","values":[20,40,60,80,100,120,140,160,180,200,220],"grid":true,"labels":false,"title":null}},
    "detail":{"field":"s","type":"nominal"},
    "order":{"field":"d","type":"quantitative"}}},
  {"mark":{"type":"line","opacity":0},
   "encoding":{
    "x":{"field":"r","type":"quantitative","axis":{"orient":"top","values":[1.4,1.6,1.8],"labels":false,"grid":false,"title":null}},
    "y":{"field":"d","type":"quantitative","axis":{"orient":"right","values":[20,40,60,80,100,120,140,160,180,200,220],"labelPadding":10,"title":"Depth (m)","titleAngle":270,"titlePadding":34}},
    "detail":{"field":"s","type":"nominal"},
    "order":{"field":"d","type":"quantitative"}}}
 ]}
]
}
